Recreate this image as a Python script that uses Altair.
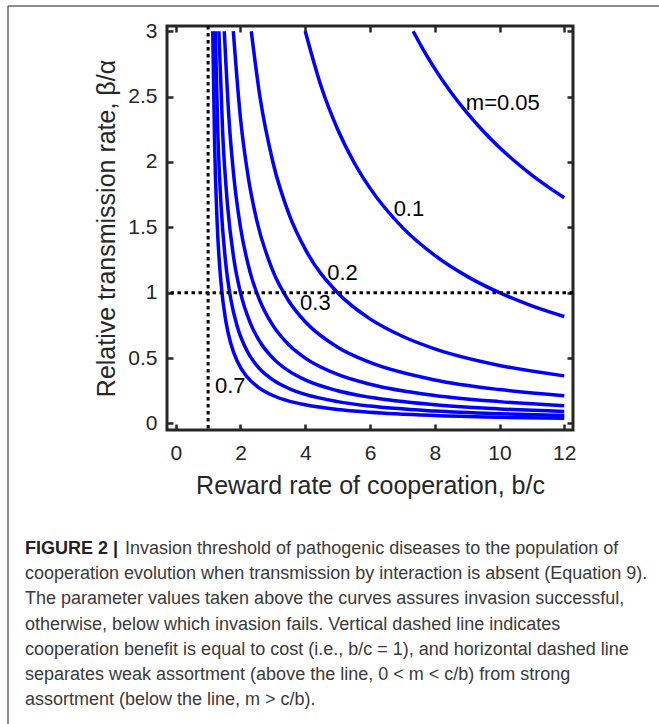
import altair as alt
import pandas as pd

# ---- data ----
m_labels = ["0.05", "0.1", "0.2", "0.3", "0.4", "0.5", "0.6", "0.7"]

x_m005 = [7.333, 7.6, 8.0, 8.5, 9.0, 9.5, 10.0, 10.5, 11.0, 11.5, 12.0]
y_m005 = [3.0, 2.879, 2.714, 2.533, 2.375, 2.235, 2.111, 2.0, 1.9, 1.810, 1.727]

x_m01 = [4.0, 4.5, 5.0, 5.5, 6.0, 7.0, 8.0, 9.0, 10.0, 11.0, 12.0]
y_m01 = [3.0, 2.571, 2.25, 2.0, 1.8, 1.5, 1.286, 1.125, 1.0, 0.9, 0.818]

x_m02 = [2.333, 2.6, 3.0, 3.5, 4.0, 5.0, 6.0, 7.0, 8.0, 10.0, 12.0]
y_m02 = [3.0, 2.5, 2.0, 1.6, 1.333, 1.0, 0.8, 0.667, 0.571, 0.444, 0.364]

x_m03 = [1.778, 2.0, 2.25, 2.5, 3.0, 3.5, 4.0, 5.0, 6.0, 8.0, 10.0, 12.0]
y_m03 = [3.0, 2.333, 1.867, 1.556, 1.167, 0.933, 0.778, 0.583, 0.467, 0.333, 0.259, 0.212]

x_m04 = [1.5, 1.65, 1.8, 2.0, 2.3, 2.6, 3.0, 3.5, 4.0, 5.0, 6.0, 8.0, 10.0, 12.0]
y_m04 = [3.0, 2.308, 1.875, 1.5, 1.154, 0.9375, 0.75, 0.6, 0.5, 0.375, 0.3, 0.214, 0.167, 0.136]

x_m05 = [1.333, 1.45, 1.6, 1.8, 2.0, 2.3, 2.6, 3.0, 3.5, 4.0, 5.0, 6.0, 8.0, 10.0, 12.0]
y_m05 = [3.0, 2.222, 1.667, 1.25, 1.0, 0.769, 0.625, 0.5, 0.4, 0.333, 0.25, 0.2, 0.143, 0.111, 0.0909]

x_m06 = [1.222, 1.3, 1.4, 1.55, 1.7, 1.9, 2.2, 2.5, 3.0, 3.5, 4.0, 5.0, 6.0, 8.0, 10.0, 12.0]
y_m06 = [3.0, 2.222, 1.667, 1.212, 0.952, 0.741, 0.556, 0.444, 0.333, 0.267, 0.222, 0.167, 0.133, 0.0952, 0.0741, 0.0606]

x_m07 = [1.143, 1.2, 1.28, 1.4, 1.55, 1.7, 1.9, 2.2, 2.5, 3.0, 3.5, 4.0, 5.0, 6.0, 8.0, 10.0, 12.0]
y_m07 = [3.0, 2.143, 1.531, 1.071, 0.779, 0.612, 0.476, 0.357, 0.286, 0.214, 0.171, 0.143, 0.107, 0.0857, 0.0612, 0.0476, 0.039]

curve_x = [x_m005, x_m01, x_m02, x_m03, x_m04, x_m05, x_m06, x_m07]
curve_y = [y_m005, y_m01, y_m02, y_m03, y_m04, y_m05, y_m06, y_m07]

label_text = ["m=0.05", "0.1", "0.2", "0.3", "0.7"]
label_x = [8.96, 6.73, 4.68, 3.84, 1.21]
label_y = [2.45, 1.64, 1.15, 0.92, 0.29]

x_ticks = [0, 2, 4, 6, 8, 10, 12]
y_ticks = [0, 0.5, 1, 1.5, 2, 2.5, 3]

caption_lines = [
    "Invasion threshold of pathogenic diseases to the population of",
    "cooperation evolution when transmission by interaction is absent (Equation 9).",
    "The parameter values taken above the curves assures invasion successful,",
    "otherwise, below which invasion fails. Vertical dashed line indicates",
    "cooperation benefit is equal to cost (i.e., b/c = 1), and horizontal dashed line",
    "separates weak assortment (above the line, 0 < m < c/b) from strong",
    "assortment (below the line, m > c/b).",
]

# ---- tables ----
rows = []
for lab, xs, ys in zip(m_labels, curve_x, curve_y):
    for xv, yv in zip(xs, ys):
        rows.append({"m": lab, "x": xv, "y": yv})
curves = pd.DataFrame(rows)
labels = pd.DataFrame({"t": label_text, "x": label_x, "y": label_y})

XDOM = [-0.27, 12.27]
YDOM = [-0.05, 3.04]
FONT = "Liberation Sans"
AX = "#262626"

xs_scale = alt.Scale(domain=XDOM, nice=False, zero=False)
ys_scale = alt.Scale(domain=YDOM, nice=False, zero=False)

x_axis = alt.Axis(values=x_ticks, orient="bottom", domain=False, grid=False,
                  tickSize=6, offset=-6, tickWidth=2.5, tickColor=AX,
                  labelFontSize=21, labelFont=FONT, labelColor=AX, labelPadding=12,
                  title="Reward rate of cooperation, b/c", titleFontSize=25,
                  titleFont=FONT, titleFontWeight="normal", titleColor=AX,
                  titlePadding=10)
y_axis = alt.Axis(values=y_ticks, orient="left", domain=False, grid=False,
                  format="~g",
                  tickSize=6, offset=-6, tickWidth=2.5, tickColor=AX,
                  labelFontSize=21, labelFont=FONT, labelColor=AX, labelPadding=10,
                  title="Relative transmission rate, β/α", titleFontSize=25,
                  titleFont=FONT, titleFontWeight="normal", titleColor=AX,
                  titlePadding=8)
x_axis_top = alt.Axis(values=x_ticks, orient="top", domain=False, grid=False,
                      tickSize=6, offset=-6, tickWidth=2.5, tickColor=AX,
                      labels=False, title=None)
y_axis_right = alt.Axis(values=y_ticks, orient="right", domain=False, grid=False,
                        tickSize=6, offset=-6, tickWidth=2.5, tickColor=AX,
                        labels=False, title=None)

lines = alt.Chart(curves).mark_line(color="#0000ff", strokeWidth=3.5,
                                    interpolate="monotone", clip=True).encode(
    x=alt.X("x:Q", scale=xs_scale, axis=x_axis),
    y=alt.Y("y:Q", scale=ys_scale, axis=y_axis),
    detail="m:N",
)

frame_axes = alt.Chart(curves).mark_point(opacity=0).encode(
    x=alt.X("x:Q", scale=xs_scale, axis=x_axis_top),
    y=alt.Y("y:Q", scale=ys_scale, axis=y_axis_right),
)

vline = alt.Chart(pd.DataFrame({"x": [1.0]})).mark_rule(
    color="black", strokeWidth=3, strokeDash=[3.5, 3.5]).encode(
    x=alt.X("x:Q", scale=xs_scale, axis=None))
hline = alt.Chart(pd.DataFrame({"y": [1.0]})).mark_rule(
    color="black", strokeWidth=3, strokeDash=[3.5, 3.5]).encode(
    y=alt.Y("y:Q", scale=ys_scale, axis=None))

curve_labels = alt.Chart(labels).mark_text(
    align="left", baseline="middle", fontSize=22, font=FONT, color="black").encode(
    x=alt.X("x:Q", scale=xs_scale, axis=None),
    y=alt.Y("y:Q", scale=ys_scale, axis=None), text="t:N")

# ---- caption and outer border (outside the plot area) ----
cap_layers = []
LINE0 = 523
STEP = 25.2
CAPX = -142
for i, t in enumerate(caption_lines):
    dx = 100 if i == 0 else 0
    cap_layers.append(
        alt.Chart(pd.DataFrame({"t": [t]})).mark_text(
            align="left", baseline="middle", fontSize=18, font=FONT,
            color="#3a3a3a").encode(
            x=alt.value(CAPX + dx), y=alt.value(LINE0 + i * STEP), text="t:N"))
fig_label = alt.Chart(pd.DataFrame({"t": ["FIGURE 2 |"]})).mark_text(
    align="left", baseline="middle", fontSize=18, font=FONT, fontWeight="bold",
    color="#222222").encode(x=alt.value(CAPX), y=alt.value(LINE0), text="t:N")

border_v = alt.Chart(pd.DataFrame({"a": [0]})).mark_rule(
    color="#666666", strokeWidth=1.5).encode(
    x=alt.value(-159), y=alt.value(-20), y2=alt.value(720))
border_h = alt.Chart(pd.DataFrame({"a": [0]})).mark_rule(
    color="#666666", strokeWidth=1.5).encode(
    x=alt.value(-159), x2=alt.value(520), y=alt.value(-20))

chart = alt.layer(
    lines, frame_axes, vline, hline, curve_labels, fig_label, *cap_layers,
    border_v, border_h,
).resolve_axis(x="independent", y="independent").properties(
    width=406, height=404,
    autosize=alt.AutoSizeParams(type="none"),
    padding={"left": 167, "top": 26, "right": 86, "bottom": 294},
    background="white",
).configure_view(stroke=AX, strokeWidth=3)

chart.save("out.html", embed_options={"renderer": "svg", "actions": False})
